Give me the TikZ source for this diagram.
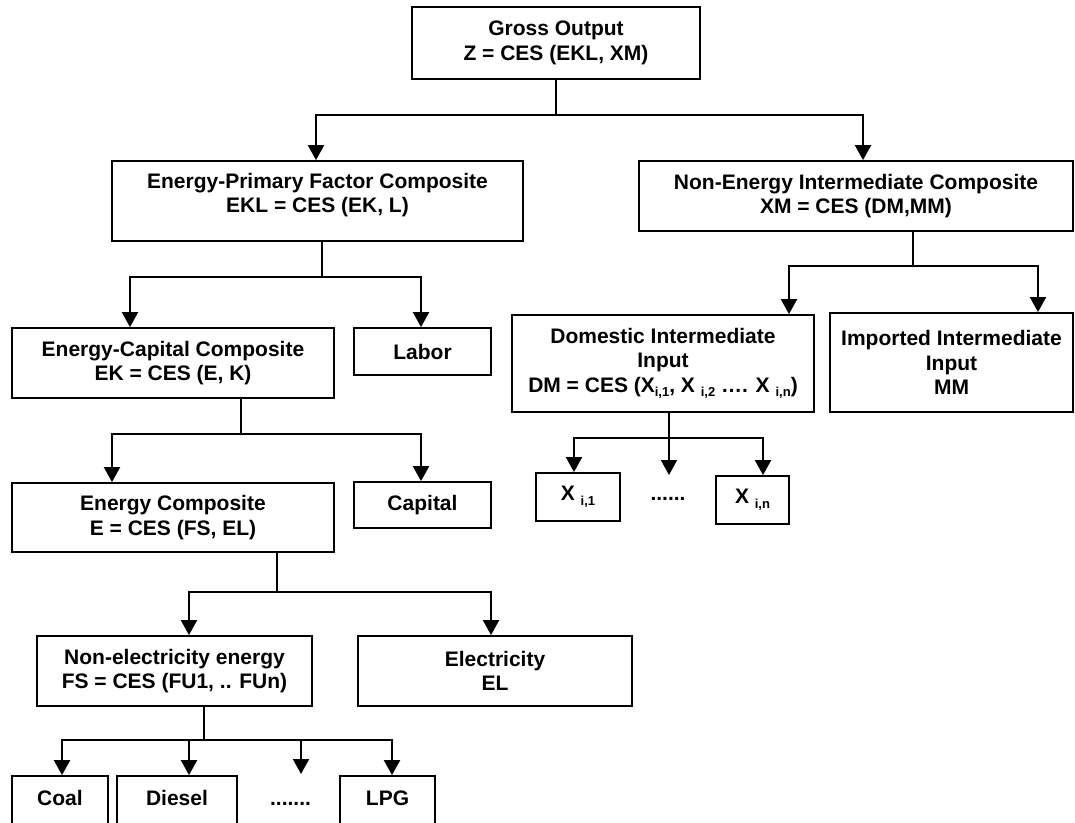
\documentclass[tikz,border=0pt]{standalone}
\usepackage{fontspec}
\setmainfont{Liberation Sans}
\usetikzlibrary{arrows.meta}
\newcommand\subx[1]{\raisebox{-0.22em}{\fontsize{13}{13}\selectfont #1}}
\begin{document}
\begin{tikzpicture}[x=1pt,y=-1pt,
  box/.style={draw, line width=1.8pt, inner sep=0pt, align=center,
    font=\bfseries\fontsize{21}{24.5}\selectfont},
  lbl/.style={inner sep=0pt, align=center, font=\bfseries\fontsize{21}{24.5}\selectfont},
  stub/.style={line width=1.4pt},
  bar/.style={line width=2pt, line cap=rect},
  arr/.style={line width=2pt, -{Triangle[width=16pt,length=15pt]}}]
\fill[white] (0,0) rectangle (1075,822);
\useasboundingbox (0,0) rectangle (1075,822);
\clip (0,0) rectangle (1075,822);

% ---------- boxes ----------
\node[box, minimum width=288, minimum height=72] (go) at (556,43) {Gross Output\\Z = CES (EKL, XM)};
\node[box, minimum width=411, minimum height=80] (ekl) at (317.5,201) {};
\node[lbl] (eklt) at (317.5,195) {Energy-Primary Factor Composite\\EKL = CES (EK, L)};
\node[box, minimum width=434, minimum height=70] (xm) at (856,196) {Non-Energy Intermediate Composite\\XM = CES (DM,MM)};

\node[box, minimum width=322, minimum height=70] (ek) at (173,363) {Energy-Capital Composite\\EK = CES (E, K)};
\node[box, minimum width=137, minimum height=47] (labor) at (422.5,351.5) {Labor};

\node[box, minimum width=302, minimum height=97] (dm) at (663,363.5) {Domestic Intermediate\\Input\\DM = CES (X\subx{i,1}, X \subx{i,2} …. X \subx{i,n})};
\node[box, minimum width=243, minimum height=99] (mm) at (951.5,362.5) {Imported Intermediate\\Input\\MM};

\node[box, minimum width=84, minimum height=48] (xi1) at (578,497) {X \subx{i,1}};
\node[lbl, anchor=base] (dots2) at (668,500) {......};
\node[box, minimum width=73, minimum height=48] (xin) at (752.5,500) {X \subx{i,n}};

\node[box, minimum width=322, minimum height=69] (e) at (173,517.5) {Energy Composite\\E = CES (FS, EL)};
\node[box, minimum width=137, minimum height=46] (cap) at (422.5,505) {Capital};

\node[box, minimum width=275, minimum height=70] (fs) at (174.5,671) {Non-electricity energy\\FS = CES (FU1, .. FUn)};
\node[box, minimum width=274, minimum height=70] (el) at (495,671) {Electricity\\EL};

\node[box, minimum width=96, minimum height=52] (coal) at (60,802) {};
\node[lbl, anchor=base] (coalt) at (60,805) {Coal};
\node[box, minimum width=120, minimum height=52] (diesel) at (177,802) {};
\node[lbl, anchor=base] (dieselt) at (177,805) {Diesel};
\node[lbl, anchor=base] (dots1) at (290.5,805) {.......};
\node[box, minimum width=95, minimum height=52] (lpg) at (387.5,802) {};
\node[lbl, anchor=base] (lpgt) at (387.5,805) {LPG};

% ---------- connectors ----------
% Gross output
\coordinate (j0) at (556,115);
\coordinate (j0l) at (316,115);
\coordinate (j0r) at (863,115);
\draw[stub] (go.south) -- (j0);
\draw[bar] (j0l) -- (j0r);
\draw[arr] (j0l) -- (j0l |- ekl.north);
\draw[arr] (j0r) -- (j0r |- xm.north);

% EKL
\coordinate (j1) at (322,277);
\coordinate (j1l) at (130,277);
\coordinate (j1r) at (421,277);
\draw[stub] (ekl.south -| j1) -- (j1);
\draw[bar] (j1l) -- (j1r);
\draw[arr] (j1l) -- (j1l |- ek.north);
\draw[arr] (j1r) -- (j1r |- labor.north);

% XM
\coordinate (j2) at (913,266);
\coordinate (j2l) at (789,266);
\coordinate (j2r) at (1038,266);
\draw[stub] (xm.south -| j2) -- (j2);
\draw[bar] (j2l) -- (j2r);
\draw[arr] (j2l) -- (j2l |- dm.north);
\draw[arr] (j2r) -- (j2r |- mm.north);

% EK
\coordinate (j3) at (241,434);
\coordinate (j3l) at (112,434);
\coordinate (j3r) at (421,434);
\draw[stub] (ek.south -| j3) -- (j3);
\draw[bar] (j3l) -- (j3r);
\draw[arr] (j3l) -- (j3l |- e.north);
\draw[arr] (j3r) -- (j3r |- cap.north);

% E
\coordinate (j4) at (277,592);
\coordinate (j4l) at (189,592);
\coordinate (j4r) at (491,592);
\draw[stub] (e.south -| j4) -- (j4);
\draw[bar] (j4l) -- (j4r);
\draw[arr] (j4l) -- (j4l |- fs.north);
\draw[arr] (j4r) -- (j4r |- el.north);

% FS
\coordinate (j5) at (204,740);
\coordinate (j5a) at (62,740);
\coordinate (j5b) at (189,740);
\coordinate (j5c) at (301,740);
\coordinate (j5d) at (392,740);
\coordinate (f5c) at (301,774);
\draw[stub] (fs.south -| j5) -- (j5);
\draw[bar] (j5a) -- (j5d);
\draw[arr] (j5a) -- (j5a |- coal.north);
\draw[arr] (j5b) -- (j5b |- diesel.north);
\draw[arr] (j5c) -- (f5c);
\draw[arr] (j5d) -- (j5d |- lpg.north);

% DM
\coordinate (j6) at (669,438);
\coordinate (j6l) at (574,438);
\coordinate (j6r) at (763,438);
\coordinate (f6) at (669,475);
\draw[stub] (dm.south -| j6) -- (j6);
\draw[bar] (j6l) -- (j6r);
\draw[arr] (j6l) -- (j6l |- xi1.north);
\draw[arr] (j6) -- (f6);
\draw[arr] (j6r) -- (j6r |- xin.north);
\end{tikzpicture}
\end{document}
